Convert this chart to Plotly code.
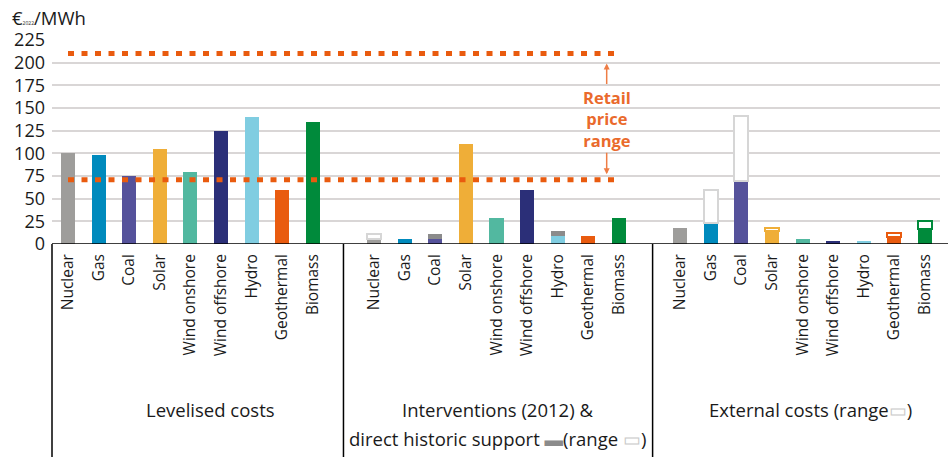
import plotly.graph_objects as go

# ---------------- data ----------------
categories = ["Nuclear", "Gas", "Coal", "Solar", "Wind onshore", "Wind offshore",
              "Hydro", "Geothermal", "Biomass"]
colors = ["#9e9d9b", "#008abd", "#55529b", "#efae38", "#52b8a0", "#2b2f78",
          "#80cde1", "#e95b0f", "#008a3b"]

levelised = [100, 98, 75, 105, 79, 125, 140, 60, 135]
interventions = [6, 5, 5, 110, 29, 60, 9, 9, 29]
historic_support = [0, 0, 5.5, 0, 0, 0, 5.5, 0, 0]
interventions_range_top = [11, None, None, None, None, None, None, None, None]
external = [18, 23, 70, 14, 5, 3, 3, 8, 16]
external_range_top = [None, 60, 141, 18, None, None, None, 12, 25]
retail_price_range = [71, 210]
group_offsets = [0, 10, 20]
y_ticks = [0, 25, 50, 75, 100, 125, 150, 175, 200, 225]

# ---------------- styling ----------------
FONT = "Open Sans"
ORANGE = "#e95b0f"
SUPPORT_GREY = "#8b8b8b"
RANGE_GREY = "#d6d6d6"
BAR_W = 0.46

n = len(categories)
pos = [[i + off for i in range(n)] for off in group_offsets]

fig = go.Figure()

def add_bars(x, y, base, fill, edge=None, edge_w=0):
    fig.add_trace(go.Bar(x=x, y=y, base=base, width=BAR_W,
                         marker=dict(color=fill,
                                     line=dict(color=edge if edge else fill, width=edge_w)),
                         showlegend=False, hoverinfo="skip"))

# Levelised costs
add_bars(pos[0], levelised, [0] * n, colors)

# Interventions
add_bars(pos[1], interventions, [0] * n, colors)
s_idx = [i for i in range(n) if historic_support[i] > 0]
add_bars([pos[1][i] for i in s_idx], [historic_support[i] for i in s_idx],
         [interventions[i] for i in s_idx], SUPPORT_GREY)
r_idx = [i for i in range(n) if interventions_range_top[i] is not None]
r_base = [interventions[i] + historic_support[i] for i in r_idx]
add_bars([pos[1][i] for i in r_idx],
         [interventions_range_top[i] - b for i, b in zip(r_idx, r_base)],
         r_base, "white", RANGE_GREY, 2)

# External costs
add_bars(pos[2], external, [0] * n, colors)
e_idx = [i for i in range(n) if external_range_top[i] is not None]
edge_cols = [RANGE_GREY if categories[i] in ("Gas", "Coal") else colors[i] for i in e_idx]
add_bars([pos[2][i] for i in e_idx],
         [external_range_top[i] - external[i] for i in e_idx],
         [external[i] for i in e_idx], "white", edge_cols, 2)

# Retail price range dotted lines
for v in retail_price_range:
    fig.add_trace(go.Scatter(x=[pos[0][0], pos[1][-1]], y=[v, v], mode="lines",
                             line=dict(color=ORANGE, width=5, dash="6px,7.5px"),
                             showlegend=False, hoverinfo="skip"))

TXT = "#1a1a1a"
ax_x = 17.6
annotations = [
    dict(x=ax_x, y=138, xref="x", yref="y", text="<b>Retail<br>price<br>range</b>",
         showarrow=False, font=dict(family=FONT, size=16.5, color="#ea6a2c"),
         align="center"),
    dict(x=ax_x, y=199, xref="x", yref="y", text="", showarrow=True, ax=0, ay=22,
         arrowhead=2, arrowsize=0.8, arrowwidth=1.5, arrowcolor="#ee7d45"),
    dict(x=ax_x, y=77, xref="x", yref="y", text="", showarrow=True, ax=0, ay=-23,
         arrowhead=2, arrowsize=0.8, arrowwidth=1.5, arrowcolor="#ee7d45"),
    dict(x=-0.047, y=1.108, xref="paper", yref="paper", xanchor="left", yanchor="middle",
         text="€<span style='font-size:5px'>2022</span>/MWh", showarrow=False,
         font=dict(family=FONT, size=18.5, color=TXT)),
    dict(x=4.65, y=-0.809, xref="x", yref="paper", xanchor="center", yanchor="middle",
         text="Levelised costs", showarrow=False,
         font=dict(family=FONT, size=18.5, color=TXT)),
    dict(x=14.03, y=-0.809, xref="x", yref="paper", xanchor="center", yanchor="middle",
         text="Interventions (2012) &",
         showarrow=False, font=dict(family=FONT, size=18.5, color=TXT)),
    dict(x=14.03, y=-0.955, xref="x", yref="paper", xanchor="center", yanchor="middle",
         text="direct historic support <span style='color:#8b8b8b'>▬</span>(range <span style='color:#c9c9c9'>▭</span>)",
         showarrow=False, font=dict(family=FONT, size=18.5, color=TXT)),
    dict(x=24.27, y=-0.809, xref="x", yref="paper", xanchor="center", yanchor="middle",
         text="External costs (range<span style='color:#c9c9c9'>▭</span>)",
         showarrow=False, font=dict(family=FONT, size=18.5, color=TXT)),
]

shapes = [
    dict(type="line", xref="paper", yref="y", x0=0, x1=1.01, y0=0, y1=0,
         line=dict(color="black", width=1.5)),
    dict(type="line", xref="paper", yref="paper", x0=0, x1=0, y0=0, y1=-1.05,
         line=dict(color="black", width=1.5)),
    dict(type="line", xref="x", yref="paper", x0=9, x1=9, y0=0, y1=-1.05,
         line=dict(color="black", width=1.5)),
    dict(type="line", xref="x", yref="paper", x0=19.1, x1=19.1, y0=0, y1=-1.05,
         line=dict(color="black", width=1.5)),
]

tickvals = [p for g in pos for p in g]
ticktext = categories * len(group_offsets)

fig.update_layout(
    width=948, height=457,
    margin=dict(l=52, r=8, t=40, b=212.5),
    plot_bgcolor="white", paper_bgcolor="white",
    barmode="overlay", bargap=0,
    font=dict(family=FONT, color=TXT),
    annotations=annotations, shapes=shapes, showlegend=False,
    xaxis=dict(range=[-0.523, 28.49], tickvals=tickvals, ticktext=ticktext,
               tickangle=-90, ticks="", showgrid=False, zeroline=False, showline=False,
               tickfont=dict(family=FONT, size=15.5, color=TXT),
               ticklabelstandoff=6, automargin=False, fixedrange=True),
    yaxis=dict(range=[0, 225], tickvals=y_ticks, showgrid=True, gridcolor="#d9d6d6",
               gridwidth=1.5, zeroline=False, showline=False, ticks="",
               tickfont=dict(family=FONT, size=18, color=TXT),
               ticklabelstandoff=6, automargin=False, fixedrange=True),
)

fig.write_html("out.html", config={"displayModeBar": False},
               post_script="document.body.style.margin='0';")
